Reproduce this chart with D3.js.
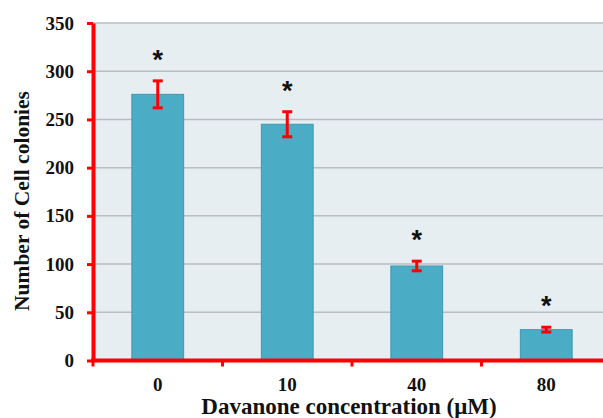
<!DOCTYPE html>
<html><head><meta charset="utf-8">
<script src="https://cdn.jsdelivr.net/npm/d3@7"></script>
<style>body{margin:0;background:#fff}svg{display:block}</style>
</head><body>
<svg id="c" width="603" height="418"></svg>
<script>
const categories = ["0", "10", "40", "80"];
const values = [276, 245, 98, 32];
const errors = [14, 13, 5, 2.5];
const marks = ["*", "*", "*", "*"];
const yTicks = [0, 50, 100, 150, 200, 250, 300, 350];
const yTitle = "Number of Cell colonies";
const xTitle = "Davanone concentration (\u03bcM)";

const svg = d3.select("#c");
const L = 93, R = 603, T = 23, B = 360.5;
const y = d3.scaleLinear().domain([0, 350]).range([B, T]);
const x = d3.scaleBand().domain(categories).range([L, 611]).padding(0);
const serif = "'Liberation Serif','Times New Roman',serif";

// plot background
svg.append("rect").attr("x", L).attr("y", T).attr("width", R - L).attr("height", B - T).attr("fill", "#E7EEF2");

// gridlines
svg.append("g").selectAll("line").data(yTicks.filter(d => d > 0)).join("line")
  .attr("x1", L).attr("x2", R).attr("y1", d => y(d)).attr("y2", d => y(d))
  .attr("stroke", "#B7BDC1").attr("stroke-width", 1.5);

// bars
const bw = x.bandwidth() * 0.4;
svg.append("g").selectAll("rect").data(categories).join("rect")
  .attr("x", d => x(d) + x.bandwidth() / 2 - bw / 2)
  .attr("y", (d, i) => y(values[i]))
  .attr("width", bw)
  .attr("height", (d, i) => y(0) - y(values[i]))
  .attr("fill", "#4BACC6").attr("stroke", "#3F97B0").attr("stroke-width", 1);

// error bars
const eg = svg.append("g").attr("stroke", "#FF0000").attr("stroke-width", 3);
categories.forEach((c, i) => {
  const cx = x(c) + x.bandwidth() / 2;
  const y1 = y(values[i] + errors[i]), y2 = y(values[i] - errors[i]);
  eg.append("line").attr("x1", cx).attr("x2", cx).attr("y1", y1).attr("y2", y2);
  eg.append("line").attr("x1", cx - 5).attr("x2", cx + 5).attr("y1", y1).attr("y2", y1);
  eg.append("line").attr("x1", cx - 5).attr("x2", cx + 5).attr("y1", y2).attr("y2", y2);
});

// significance marks
svg.append("g").selectAll("text").data(categories).join("text")
  .attr("x", d => x(d) + x.bandwidth() / 2)
  .attr("y", (d, i) => y(values[i] + errors[i]) - 12)
  .attr("text-anchor", "middle")
  .attr("font-family", "'Liberation Sans',Arial,sans-serif").attr("font-weight", "bold")
  .attr("font-size", 27).attr("fill", "#111")
  .text((d, i) => marks[i]);

// y axis
const ya = svg.append("g").attr("transform", `translate(${L},0)`)
  .call(d3.axisLeft(y).tickValues(yTicks).tickSize(6).tickPadding(13).tickSizeOuter(0));
ya.select(".domain").attr("stroke", "#FF0000").attr("stroke-width", 4);
ya.selectAll(".tick line").attr("stroke", "#FF0000").attr("stroke-width", 3);
ya.selectAll(".tick text").attr("font-family", serif).attr("font-weight", "bold").attr("font-size", 19).attr("fill", "#111");

// x axis
const xa = svg.append("g").attr("transform", `translate(0,${B})`)
  .call(d3.axisBottom(x).tickSize(0).tickPadding(17));
xa.select(".domain").remove();
xa.append("line").attr("x1", L - 2).attr("x2", R).attr("y1", 0).attr("y2", 0).attr("stroke", "#FF0000").attr("stroke-width", 4);
xa.selectAll(".tick text").attr("font-family", serif).attr("font-weight", "bold").attr("font-size", 19).attr("fill", "#111");
// boundary ticks between categories
xa.append("g").selectAll("line").data(categories).join("line")
  .attr("x1", d => x(d)).attr("x2", d => x(d)).attr("y1", 0).attr("y2", 6)
  .attr("stroke", "#FF0000").attr("stroke-width", 3);

// titles
svg.append("text").attr("x", (L + R) / 2 + 1).attr("y", 414)
  .attr("text-anchor", "middle").attr("font-family", serif).attr("font-weight", "bold")
  .attr("font-size", 23).attr("fill", "#111").text(xTitle);
svg.append("text").attr("transform", "translate(29,201) rotate(-90)")
  .attr("text-anchor", "middle").attr("font-family", serif).attr("font-weight", "bold")
  .attr("font-size", 21.5).attr("fill", "#111").text(yTitle);
</script>
</body></html>
